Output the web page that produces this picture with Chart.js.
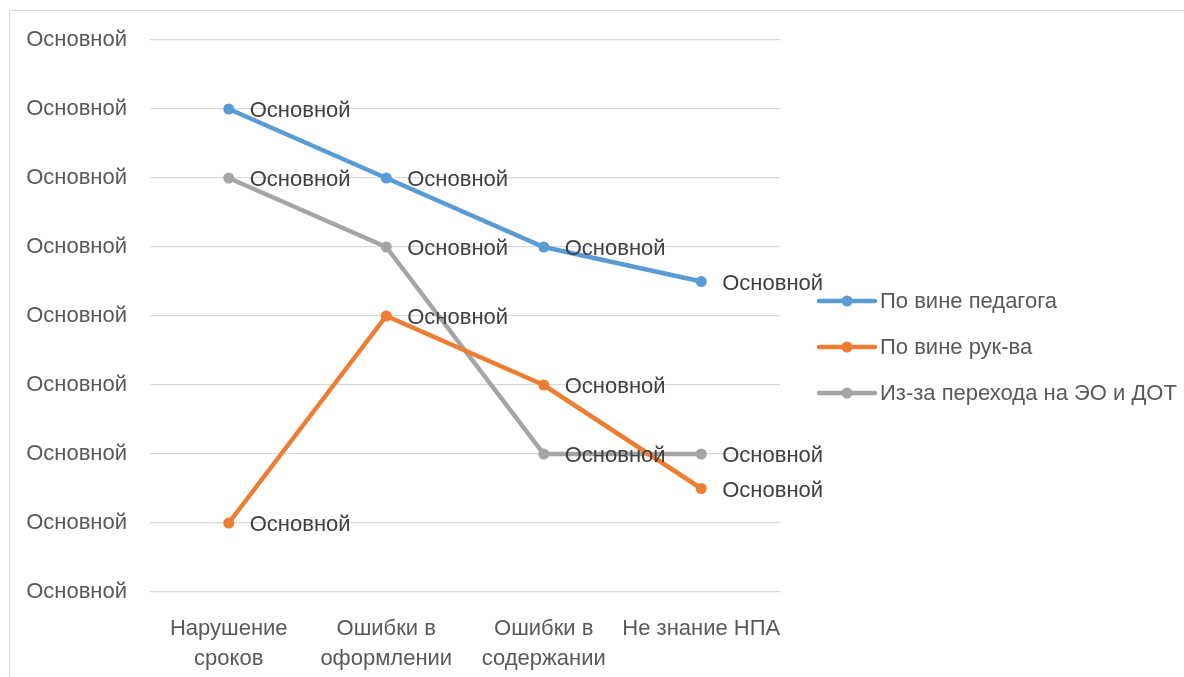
<!DOCTYPE html>
<html>
<head>
<meta charset="utf-8">
<script src="https://cdn.jsdelivr.net/npm/chart.js@4/dist/chart.umd.min.js"></script>
<style>
  html, body { margin: 0; padding: 0; background: #fff; }
  #wrap { position: relative; width: 1184px; height: 677px; }
</style>
</head>
<body>
<div id="wrap"><canvas id="chart" width="1184" height="677"></canvas></div>
<script>
// categories and series
var categories = [["Нарушение", "сроков"], ["Ошибки в", "оформлении"], ["Ошибки в", "содержании"], "Не знание НПА"];
var seriesNames = ["По вине педагога", "По вине рук-ва", "Из-за перехода на ЭО и ДОТ"];
var teacherValues = [7, 6, 5, 4.5];
var managerValues = [1, 4, 3, 1.5];
var transitionValues = [6, 5, 2, 2];
var tickLabel = "Основной";   // every tick and data label shows this text
var dataLabel = "Основной";

var seriesColors = ["#5B9BD5", "#ED7D31", "#A5A5A5"];
var FONT = "'Liberation Sans', Arial, sans-serif";
var FSIZE = 22;

function makeSet(name, values, color) {
	return {
		label: name,
		data: values,
		borderColor: color,
		backgroundColor: color,
		borderWidth: 4.5,
		pointRadius: 5.5,
		pointHoverRadius: 5.5,
		pointBorderWidth: 0,
		tension: 0
	};
}

// frame round the chart
var framePlugin = {
	id: "frame",
	beforeDraw: function(chart) {
		var ctx = chart.ctx;
		ctx.save();
		ctx.strokeStyle = "#D9D9D9";
		ctx.lineWidth = 1;
		ctx.beginPath();
		ctx.moveTo(9.5, 700);
		ctx.lineTo(9.5, 10.5);
		ctx.lineTo(1200, 10.5);
		ctx.stroke();
		ctx.restore();
	}
};

// "Основной" next to every point
var labelPlugin = {
	id: "pointLabels",
	afterDatasetsDraw: function(chart) {
		var ctx = chart.ctx;
		ctx.save();
		ctx.font = FSIZE + "px " + FONT;
		ctx.fillStyle = "#404040";
		ctx.textBaseline = "middle";
		ctx.textAlign = "left";
		chart.data.datasets.forEach(function(ds, i) {
			chart.getDatasetMeta(i).data.forEach(function(pt) {
				ctx.fillText(dataLabel, pt.x + 21, pt.y + 2);
			});
		});
		ctx.restore();
	}
};

// legend on the right, line with marker
var legendPlugin = {
	id: "sideLegend",
	afterDraw: function(chart) {
		var ctx = chart.ctx;
		var area = chart.chartArea;
		ctx.save();
		ctx.font = FSIZE + "px " + FONT;
		ctx.textBaseline = "middle";
		chart.data.datasets.forEach(function(ds, i) {
			var y = area.top + 261 + i * 46;
			var x0 = area.right + 39;
			ctx.strokeStyle = ds.borderColor;
			ctx.lineWidth = 4.5;
			ctx.lineCap = "round";
			ctx.beginPath();
			ctx.moveTo(x0, y);
			ctx.lineTo(x0 + 56, y);
			ctx.stroke();
			ctx.fillStyle = ds.borderColor;
			ctx.beginPath();
			ctx.arc(x0 + 28, y, 5.5, 0, Math.PI * 2);
			ctx.fill();
			ctx.fillStyle = "#595959";
			ctx.fillText(ds.label, x0 + 61, y + 1);
		});
		ctx.restore();
	}
};

new Chart(document.getElementById("chart"), {
	type: "line",
	data: {
		labels: categories,
		datasets: [
			makeSet(seriesNames[0], teacherValues, seriesColors[0]),
			makeSet(seriesNames[1], managerValues, seriesColors[1]),
			makeSet(seriesNames[2], transitionValues, seriesColors[2])
		]
	},
	options: {
		responsive: false,
		animation: false,
		layout: { padding: { left: 27, top: 40, right: 404, bottom: 0 } },
		plugins: {
			legend: { display: false },
			tooltip: { enabled: false }
		},
		scales: {
			x: {
				offset: true,
				grid: { display: false },
				border: { display: false },
				ticks: {
					color: "#595959",
					font: { family: FONT, size: FSIZE, lineHeight: 1.35 },
					padding: 14,
					maxRotation: 0,
					autoSkip: false
				},
				afterFit: function(scale) { scale.height = 85; }
			},
			y: {
				min: 0,
				max: 8,
				grid: { color: "#D9D9D9", lineWidth: 1.3, drawTicks: false },
				border: { display: false },
				ticks: {
					stepSize: 1,
					color: "#595959",
					font: { family: FONT, size: FSIZE },
					padding: 23,
					callback: function() { return tickLabel; }
				},
				afterFit: function(scale) { scale.width = 123; }
			}
		}
	},
	plugins: [framePlugin, labelPlugin, legendPlugin]
});
</script>
</body>
</html>
